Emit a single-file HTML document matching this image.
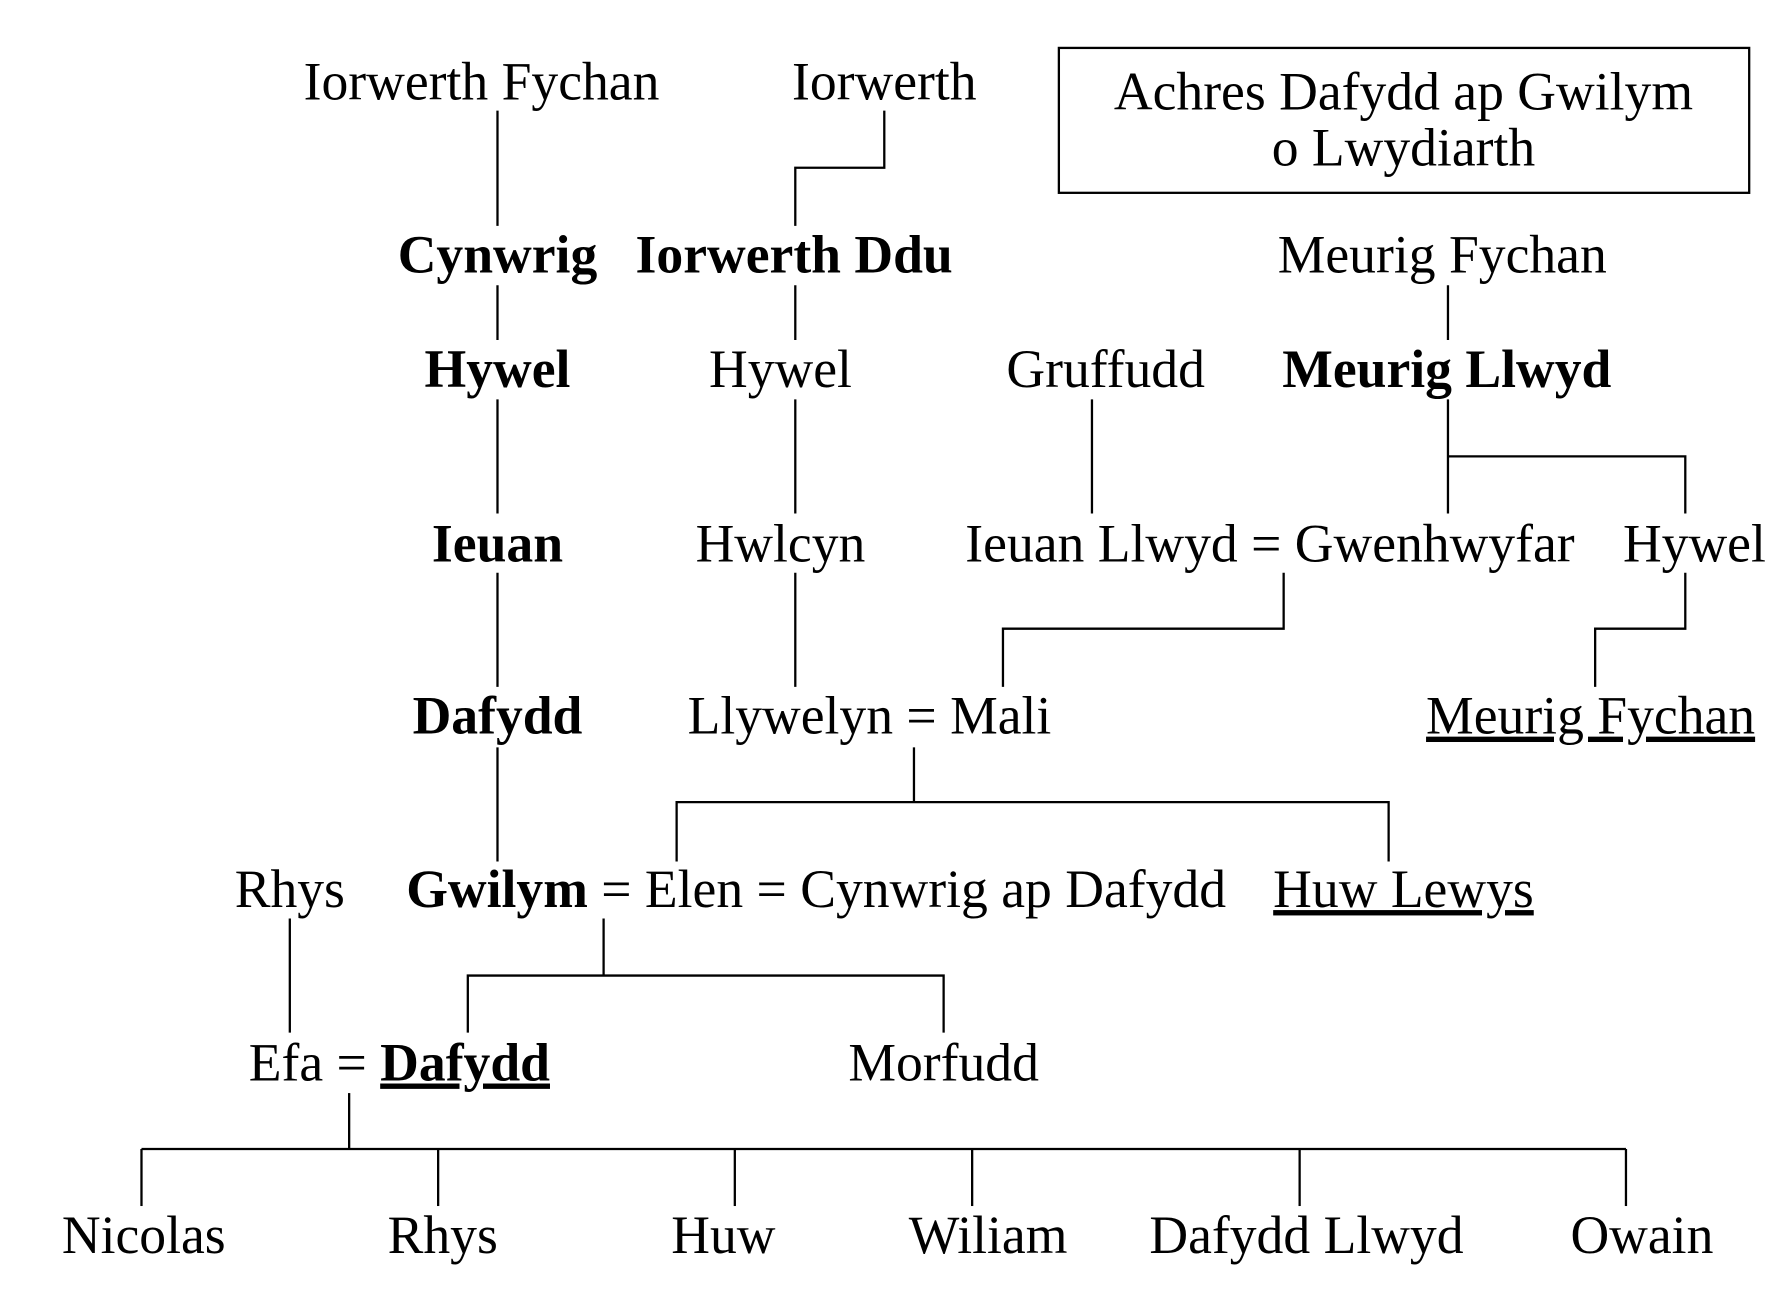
<!DOCTYPE html>
<html><head><meta charset="utf-8"><style>
html,body{margin:0;padding:0;background:#fff;width:1780px;height:1311px;overflow:hidden}
svg{display:block}
text{font-family:"Liberation Serif","Times New Roman",serif;font-size:47px;fill:#000}
.b{font-weight:bold}
.m{text-anchor:middle}
</style></head><body>
<svg width="1780" height="1311" viewBox="0 0 1560 1149" preserveAspectRatio="none" xmlns="http://www.w3.org/2000/svg">
<g stroke="#000" stroke-width="2" fill="none">
<rect x="928" y="42" width="605" height="127"/>
<line x1="436" y1="97" x2="436" y2="198"/>
<line x1="436" y1="250" x2="436" y2="298"/>
<line x1="436" y1="350" x2="436" y2="450"/>
<line x1="436" y1="502" x2="436" y2="602"/>
<line x1="436" y1="655" x2="436" y2="755"/>
<polyline points="775,97 775,147 697,147 697,198"/>
<line x1="697" y1="250" x2="697" y2="298"/>
<line x1="697" y1="350" x2="697" y2="450"/>
<line x1="697" y1="502" x2="697" y2="602"/>
<line x1="957" y1="350" x2="957" y2="450"/>
<line x1="1269" y1="250" x2="1269" y2="298"/>
<line x1="1269" y1="350" x2="1269" y2="450"/>
<polyline points="1269,400 1477,400 1477,450"/>
<polyline points="1125,502 1125,551 879,551 879,602"/>
<polyline points="1477,502 1477,551 1398,551 1398,602"/>
<line x1="801" y1="655" x2="801" y2="703"/>
<polyline points="593,755 593,703 1217,703 1217,755"/>
<line x1="254" y1="805" x2="254" y2="905"/>
<line x1="529" y1="805" x2="529" y2="855"/>
<polyline points="410,905 410,855 827,855 827,905"/>
<line x1="306" y1="958" x2="306" y2="1007"/>
<line x1="124" y1="1007" x2="1425" y2="1007"/>
<line x1="124" y1="1007" x2="124" y2="1057"/>
<line x1="384" y1="1007" x2="384" y2="1057"/>
<line x1="644" y1="1007" x2="644" y2="1057"/>
<line x1="852" y1="1007" x2="852" y2="1057"/>
<line x1="1139" y1="1007" x2="1139" y2="1057"/>
<line x1="1425" y1="1007" x2="1425" y2="1057"/>
</g>
<text class="m" x="422" y="87">Iorwerth Fychan</text>
<text class="m" x="775" y="87">Iorwerth</text>
<text class="m" x="1230" y="96">Achres Dafydd ap Gwilym</text>
<text class="m" x="1230" y="145">o Lwydiarth</text>
<text class="m b" x="436" y="239">Cynwrig</text>
<text class="m b" x="696" y="239">Iorwerth Ddu</text>
<text class="m" x="1264" y="239">Meurig Fychan</text>
<text class="m b" x="436" y="339">Hywel</text>
<text class="m" x="684" y="339">Hywel</text>
<text class="m" x="969" y="339">Gruffudd</text>
<text class="m b" x="1268" y="339">Meurig Llwyd</text>
<text class="m b" x="436" y="492">Ieuan</text>
<text class="m" x="684" y="492">Hwlcyn</text>
<text class="m" x="1113" y="492">Ieuan Llwyd = Gwenhwyfar</text>
<text class="m" x="1485" y="492">Hywel</text>
<text class="m b" x="436" y="643">Dafydd</text>
<text class="m" x="762" y="643">Llywelyn = Mali</text>
<text class="m" x="1394" y="643" text-decoration="underline">Meurig Fychan</text>
<text class="m" x="254" y="795">Rhys</text>
<text x="356" y="795"><tspan class="b">Gwilym</tspan> = Elen = Cynwrig ap Dafydd</text>
<text class="m" x="1230" y="795" text-decoration="underline">Huw Lewys</text>
<text x="218" y="947">Efa = <tspan class="b" text-decoration="underline">Dafydd</tspan></text>
<text class="m" x="827" y="947">Morfudd</text>
<text class="m" x="126" y="1098">Nicolas</text>
<text class="m" x="388" y="1098">Rhys</text>
<text class="m" x="634" y="1098">Huw</text>
<text class="m" x="866" y="1098">Wiliam</text>
<text class="m" x="1145" y="1098">Dafydd Llwyd</text>
<text class="m" x="1439" y="1098">Owain</text>
</svg>
</body></html>
